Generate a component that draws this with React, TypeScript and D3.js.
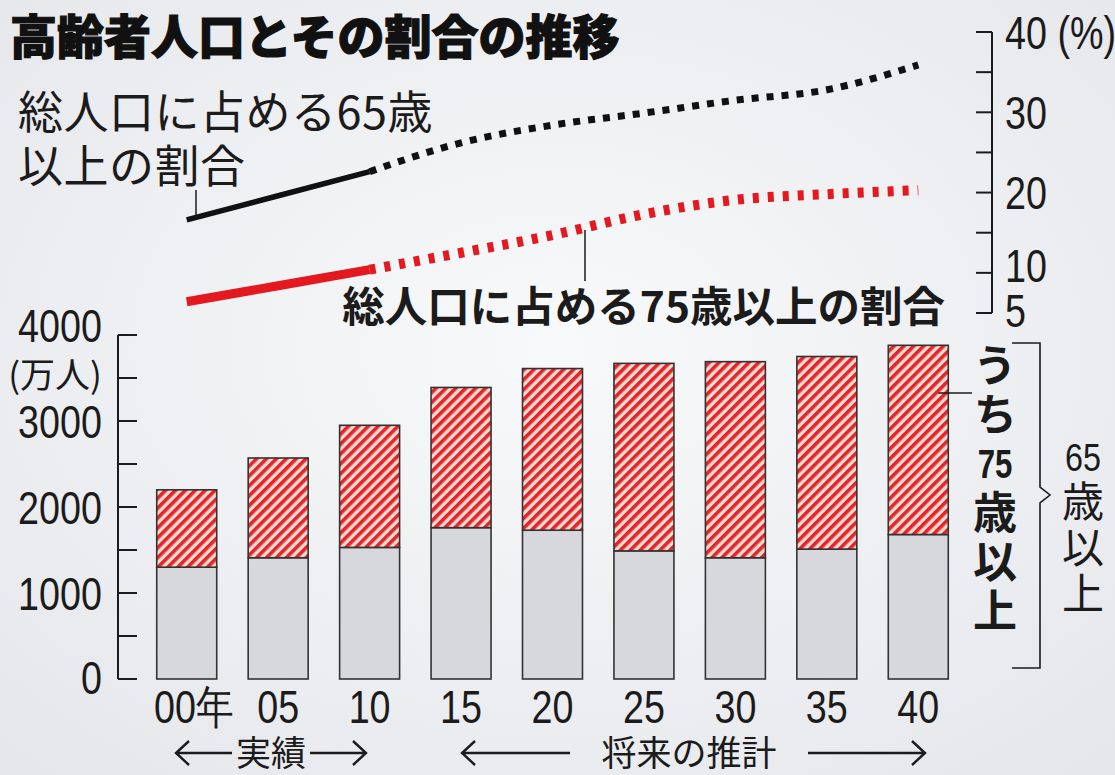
import * as d3 from "d3";

// 高齢者人口（万人）と総人口に占める割合（%）
const years = ["00年", "05", "10", "15", "20", "25", "30", "35", "40"];
const pop65to74 = [1300, 1410, 1530, 1760, 1730, 1490, 1410, 1510, 1680];
const pop75plus = [900, 1160, 1420, 1630, 1880, 2180, 2280, 2240, 2200];
const share65 = [16.6, 19.6, 22.6, 26.2, 28.4, 29.9, 31.5, 32.8, 35.9];
const share75 = [6.4, 8.4, 10.4, 12.5, 14.7, 17.3, 19.1, 19.8, 20.3];

const popTicks = [0, 500, 1000, 1500, 2000, 2500, 3000, 3500, 4000];
const popLabels = [0, 1000, 2000, 3000, 4000];
const shareTicks = [5, 10, 15, 20, 25, 30, 35, 40];
const shareLabels = [5, 10, 20, 30, 40];
const actualCount = 3; // 00〜10年は実績、以降は推計

const W = 1115;
const H = 775;
const JP = "'Noto Sans CJK JP', sans-serif";
const NUM = "'Liberation Sans', Arial, sans-serif";
const INK = "#1b1b1b";

const x = d3
  .scaleBand()
  .domain(years)
  .range([141, 964])
  .paddingInner(0.344)
  .paddingOuter(0.172);
const yPop = d3.scaleLinear().domain([0, 4000]).range([679, 335]);
const yShare = d3.scaleLinear().domain([5, 40]).range([313, 32]);

const rows = years.map((year, i) => ({
  year,
  young: pop65to74[i],
  old: pop75plus[i],
}));
const stacked = d3.stack<any>().keys(["young", "old"])(rows);

const cx = (i: number) => (x(years[i]) as number) + x.bandwidth() / 2;

const line = d3
  .line<[number, number]>()
  .x((d) => cx(d[0]))
  .y((d) => yShare(d[1]));

function parts(values: number[]) {
  const pts = values.map((v, i) => [i, v] as [number, number]);
  return {
    solid: line.curve(d3.curveLinear)(pts.slice(0, actualCount)) as string,
    dotted: line.curve(d3.curveMonotoneX)(pts.slice(actualCount - 1)) as string,
  };
}

// narrow figures like the newspaper's condensed numerals
function Num(props: {
  x: number;
  y: number;
  text: string;
  anchor?: string;
  size?: number;
  weight?: number;
  sx?: number;
}) {
  const size = props.size ?? 46;
  return (
    <text
      transform={`translate(${props.x},${props.y + size * 0.36}) scale(${props.sx ?? 0.82},1)`}
      textAnchor={props.anchor ?? "middle"}
      fontFamily={NUM}
      fontSize={size}
      fontWeight={props.weight ?? 400}
      fill={INK}
    >
      {props.text}
    </text>
  );
}

function Arrow(props: { x1: number; x2: number; y: number }) {
  const { x1, x2, y } = props;
  const dir = x2 > x1 ? 1 : -1;
  return (
    <path
      d={`M${x1},${y}H${x2}M${x2 - dir * 13},${y - 12}L${x2},${y}L${x2 - dir * 13},${y + 12}`}
      fill="none"
      stroke={INK}
      strokeWidth={2.4}
    />
  );
}

// vertical (tategaki) run of kana/kanji, top edge at y
function Tate(props: {
  x: number;
  y: number;
  text: string;
  size: number;
  weight: number;
  gap: number;
}) {
  return (
    <text
      x={props.x}
      y={props.y}
      fontFamily={JP}
      fontSize={props.size}
      fontWeight={props.weight}
      letterSpacing={props.gap}
      fill={INK}
      writingMode="vertical-rl"
      style={{ writingMode: "vertical-rl" }}
    >
      {props.text}
    </text>
  );
}

export default function App() {
  const p65 = parts(share65);
  const p75 = parts(share75);
  const last = years.length - 1;
  const axisL = 118;
  const axisR = 992;

  return (
    <svg
      width={W}
      height={H}
      style={{ position: "absolute", left: 0, top: 0 }}
    >
      <defs>
        <radialGradient id="paper" cx="50%" cy="45%" r="75%">
          <stop offset="0%" stopColor="#f8f9fa" />
          <stop offset="100%" stopColor="#e4e6ea" />
        </radialGradient>
        <pattern
          id="hatch"
          patternUnits="userSpaceOnUse"
          width={7}
          height={7}
          patternTransform="rotate(45)"
        >
          <rect width={7} height={7} fill="#f2dcd0" />
          <rect width={3.6} height={7} fill="#e4232b" />
        </pattern>
      </defs>
      <rect width={W} height={H} fill="url(#paper)" />

      {/* title */}
      <text
        x={10}
        y={33}
        fontFamily={JP}
        fontSize={47}
        fontWeight={900}
        fill="#111"
        stroke="#111"
        strokeWidth={1.2}
        dominantBaseline="central"
      >
        高齢者人口とその割合の推移
      </text>

      {/* bars */}
      {stacked.map((layer) =>
        layer.map((d, i) => (
          <rect
            key={layer.key + i}
            x={x(years[i])}
            y={yPop(d[1])}
            width={x.bandwidth()}
            height={yPop(d[0]) - yPop(d[1])}
            fill={layer.key === "old" ? "url(#hatch)" : "#d7d8db"}
            stroke="#333"
            strokeWidth={1.6}
          />
        ))
      )}

      {/* left axis */}
      <line x1={axisL} x2={axisL} y1={yPop(4000)} y2={yPop(0)} stroke={INK} strokeWidth={2} />
      {popTicks.map((t) => (
        <line key={t} x1={axisL} x2={axisL + 19} y1={yPop(t)} y2={yPop(t)} stroke={INK} strokeWidth={2} />
      ))}
      {popLabels.map((t) => (
        <Num key={t} x={102} y={yPop(t) + (t === 4000 ? -10 : t === 0 ? -2 : 0)} text={String(t)} anchor="end" />
      ))}
      <text x={55} y={372} textAnchor="middle" fontFamily={JP} fontSize={35} fill={INK} dominantBaseline="central">
        (万人)
      </text>

      {/* right axis */}
      <line x1={axisR} x2={axisR} y1={yShare(40)} y2={yShare(5)} stroke={INK} strokeWidth={2} />
      {shareTicks.map((t) => (
        <line key={t} x1={axisR - 16} x2={axisR} y1={yShare(t)} y2={yShare(t)} stroke={INK} strokeWidth={2} />
      ))}
      {shareLabels.map((t) => (
        <Num
          key={t}
          x={1005}
          y={yShare(t) + (t === 10 ? -7 : t === 5 ? -3 : 0)}
          text={t === 40 ? "40 (%)" : String(t)}
          anchor="start"
        />
      ))}

      {/* share lines */}
      <path d={p75.solid} fill="none" stroke="#e3191f" strokeWidth={9} />
      <path d={p75.dotted} fill="none" stroke="#e3191f" strokeWidth={10} strokeDasharray="6 9" />
      <path d={p65.solid} fill="none" stroke="#111" strokeWidth={5.5} />
      <path d={p65.dotted} fill="none" stroke="#111" strokeWidth={7} strokeDasharray="7 8" />

      {/* line labels */}
      <g fontFamily={JP} fontSize={45} fill={INK} letterSpacing={0.5}>
        <text x={18} y={109} dominantBaseline="central">総人口に占める65歳</text>
        <text x={18} y={163} dominantBaseline="central">以上の割合</text>
      </g>
      <line x1={196} x2={196} y1={190} y2={yShare(share65[0]) - 2} stroke={INK} strokeWidth={1.5} />
      <text x={945} y={303} textAnchor="end" fontFamily={JP} fontSize={42.5} fontWeight={700} fill={INK} dominantBaseline="central">
        総人口に占める75歳以上の割合
      </text>
      <line x1={585} x2={585} y1={230} y2={281} stroke={INK} strokeWidth={1.5} />

      {/* x labels */}
      {years.map((yr, i) => (
        <Num key={yr} x={cx(i) + (i === 0 ? 7 : 0)} y={706} text={yr} />
      ))}
      <g fontFamily={JP} fontSize={35} fill={INK}>
        <text x={271} y={750} textAnchor="middle" dominantBaseline="central">実績</text>
        <text x={689} y={750} textAnchor="middle" dominantBaseline="central">将来の推計</text>
      </g>
      <Arrow x1={232} x2={176} y={753} />
      <Arrow x1={310} x2={366} y={753} />
      <Arrow x1={570} x2={462} y={753} />
      <Arrow x1={808} x2={925} y={753} />

      {/* right legend */}
      <line
        x1={(x(years[last]) as number) + x.bandwidth() - 10}
        x2={972}
        y1={393}
        y2={393}
        stroke={INK}
        strokeWidth={1.5}
      />
      <Tate x={995} y={343} text="うち" size={44} weight={700} gap={5} />
      <Num x={995} y={464} text="75" size={40} weight={700} sx={0.78} />
      <Tate x={995} y={490} text="歳以上" size={44} weight={700} gap={5} />
      <path
        d="M1012,343H1040V487L1050,495L1040,503V668H1012"
        fill="none"
        stroke={INK}
        strokeWidth={1.6}
      />
      <Num x={1083} y={457} text="65" size={38} sx={0.85} />
      <Tate x={1083} y={480} text="歳以上" size={42} weight={400} gap={4} />
    </svg>
  );
}
